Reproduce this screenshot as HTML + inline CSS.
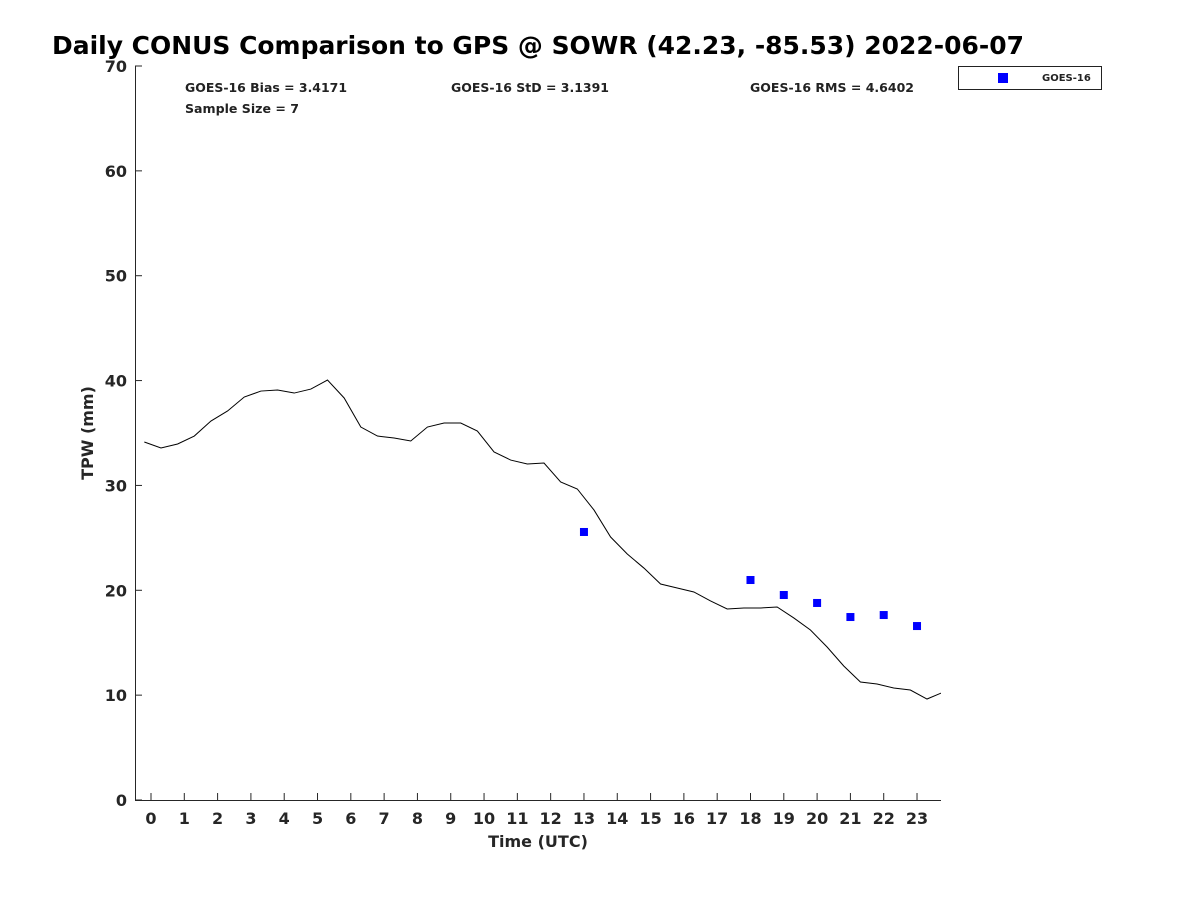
<!DOCTYPE html>
<html><head><meta charset="utf-8"><style>
body{margin:0;background:#fff;font-family:"Liberation Sans","DejaVu Sans",sans-serif}
</style></head><body>
<svg id="chart" width="1200" height="900" xmlns="http://www.w3.org/2000/svg" font-family="DejaVu Sans, Liberation Sans, sans-serif">
<rect width="1200" height="900" fill="#fff"/>
<text x="52" y="54" font-size="24.5" font-weight="bold" fill="#000" textLength="972" lengthAdjust="spacingAndGlyphs">Daily CONUS Comparison to GPS @ SOWR (42.23, -85.53) 2022-06-07</text>
<g id="axes"></g>
<text x="185" y="92" font-size="12" font-weight="bold" fill="#222" textLength="162" lengthAdjust="spacingAndGlyphs">GOES-16 Bias = 3.4171</text>
<text x="451" y="92" font-size="12" font-weight="bold" fill="#222" textLength="158" lengthAdjust="spacingAndGlyphs">GOES-16 StD = 3.1391</text>
<text x="750" y="92" font-size="12" font-weight="bold" fill="#222" textLength="164" lengthAdjust="spacingAndGlyphs">GOES-16 RMS = 4.6402</text>
<text x="185" y="113" font-size="12" font-weight="bold" fill="#222" textLength="114" lengthAdjust="spacingAndGlyphs">Sample Size = 7</text>
<g>
<rect x="958.5" y="66.5" width="143" height="23" fill="#fff" stroke="#222" stroke-width="1"/>
<rect x="998" y="73" width="10" height="10" fill="#0000ff"/>
<text x="1042" y="81" font-size="10" font-weight="bold" fill="#222">GOES-16</text>
</g>
<text x="538" y="847" font-size="16" font-weight="bold" fill="#262626" text-anchor="middle">Time (UTC)</text>
<text transform="translate(93,433) rotate(-90)" font-size="16" font-weight="bold" fill="#262626" text-anchor="middle">TPW (mm)</text>
</svg>
<script>
const gpsTimes=[-0.2,0.3,0.8,1.3,1.8,2.3,2.8,3.3,3.8,4.3,4.8,5.3,5.8,6.3,6.8,7.3,7.8,8.3,8.8,9.3,9.8,10.3,10.8,11.3,11.8,12.3,12.8,13.3,13.8,14.3,14.8,15.3,15.8,16.3,16.8,17.3,17.8,18.3,18.8,19.3,19.8,20.3,20.8,21.3,21.8,22.3,22.8,23.3,23.8];
const gpsValues=[34.14,33.57,33.95,34.71,36.14,37.10,38.43,39.00,39.10,38.81,39.19,40.05,38.34,35.57,34.71,34.52,34.24,35.57,35.95,35.95,35.19,33.19,32.42,32.04,32.14,30.33,29.66,27.66,25.08,23.46,22.12,20.60,20.22,19.84,18.98,18.22,18.31,18.31,18.41,17.36,16.21,14.59,12.78,11.25,11.06,10.68,10.49,9.63,10.30];
const goesTimes=[13,18,19,20,21,22,23];
const goesValues=[25.56,20.98,19.55,18.79,17.45,17.64,16.59];
const xTicks=[0,1,2,3,4,5,6,7,8,9,10,11,12,13,14,15,16,17,18,19,20,21,22,23];
const yTicks=[0,10,20,30,40,50,60,70];
const L=135,R=941,T=66,B=800,xMin=-0.48,xMax=23.72,yMin=0,yMax=70;
const X=v=>L+(v-xMin)/(xMax-xMin)*(R-L);
const Y=v=>B-(v-yMin)/(yMax-yMin)*(B-T);
const NS="http://www.w3.org/2000/svg";
const svg=document.getElementById('chart'), g=document.getElementById('axes');
function mk(t,a,p){const e=document.createElementNS(NS,t);for(const k in a)e.setAttribute(k,a[k]);(p||g).appendChild(e);return e;}
const ax=mk('path',{d:`M${L}.5 ${T} V${B}.5 H${R}`,fill:'none',stroke:'#262626','stroke-width':1});


xTicks.forEach(t=>{const x=X(t);
 const tk=mk('line',{x1:x,x2:x,y1:B,y2:B-7,stroke:'#262626'});
 
 
 const tx=mk('text',{x:x,y:B+24,'font-size':16,'font-weight':'bold',fill:'#262626','text-anchor':'middle'});tx.textContent=t;
 
 
});
yTicks.forEach(t=>{const y=Y(t);
 const tk=mk('line',{x1:L,x2:L+7,y1:y,y2:y,stroke:'#262626'});
 
 
 const tx=mk('text',{x:L-8,y:y+6,'font-size':16,'font-weight':'bold',fill:'#262626','text-anchor':'end'});tx.textContent=t;
 
 
});
const cp=mk('clipPath',{id:'cp'});mk('rect',{x:L,y:T,width:R-L,height:B-T},cp);
const line=mk('polyline',{points:gpsTimes.map((t,i)=>X(t)+','+Y(gpsValues[i])).join(' '),fill:'none',stroke:'#000','stroke-width':1,'clip-path':'url(#cp)'});


goesTimes.forEach((t,i)=>{
 const r=mk('rect',{x:X(t)-4,y:Y(goesValues[i])-4,width:8,height:8,fill:'#0000ff'});
 
 
});
</script>
</body></html>
